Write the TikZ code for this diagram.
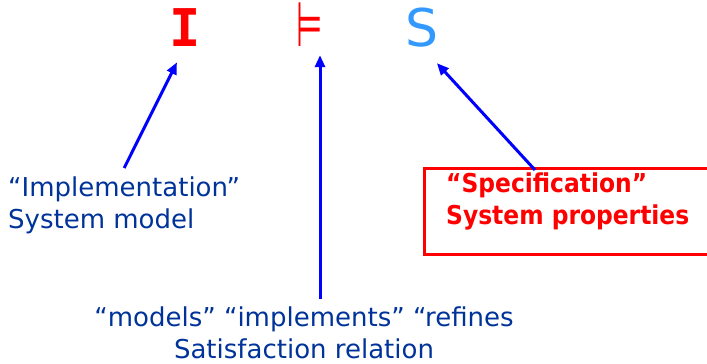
\documentclass[tikz,border=0pt]{standalone}
\usepackage{fontspec}
\setmainfont{DejaVu Sans}
\newfontfamily\symmono{DejaVu Sans Mono}
\newfontfamily\boxfont{DejaVu Sans Condensed}
\usetikzlibrary{arrows.meta,positioning}
\definecolor{navy}{RGB}{0,51,153}
\definecolor{sky}{RGB}{51,153,255}
\definecolor{pointblue}{RGB}{0,0,255}

\tikzset{
  pointer/.style={draw=pointblue,line width=3pt,-{Triangle[length=12pt,width=10pt]}},
  note/.style={text=navy,font=\fontsize{26}{32}\selectfont,inner sep=0pt},
  specbox/.style={draw=red,line width=2.5pt,minimum width=290pt,minimum height=86pt}
}

\begin{document}
\begin{tikzpicture}[x=1pt,y=-1pt]
  \useasboundingbox (0,0) rectangle (707,364);
  % the three symbols of  I |= S
  \foreach \x/\c/\f/\t/\n in {185/red/\symmono\bfseries/I/impl, 310/red//\scalebox{0.58}[1.2]{⊨}/sat, 422/sky//S/spec}
  {
    \node[text=\c,font=\f\fontsize{52}{52}\selectfont,inner sep=0pt,anchor=base] (\n) at (\x,46) {\t};
  }
  \node[note,anchor=north west,align=left] (impltxt) at (8,177) {“Implementation”\\System model};
  \node[specbox,anchor=north west] (specframe) at (423,167) {};
  \node[text=red,font=\boxfont\bfseries\fontsize{26}{32}\selectfont,inner sep=0pt,align=left,
    anchor=north west,below right=6pt and 23pt of specframe.north west] (spectxt) {“Specification”\\System properties};
  \node[note,anchor=south,align=center] (relnote) at (304,359) {“models” “implements” “refines\\Satisfaction relation};
  % pointers
  \coordinate (reltail) at ([xshift=16pt,yshift=7pt]relnote.north);
  \draw[pointer,shorten >=18pt] ([yshift=9pt]impltxt.north) -- (impl.south);
  \draw[pointer,shorten >=9pt] (reltail) -- (reltail |- sat.south);
  \draw[pointer,shorten >=22pt] ([xshift=112pt,yshift=-3pt]specframe.north west) -- (spec.south);
\end{tikzpicture}
\end{document}
